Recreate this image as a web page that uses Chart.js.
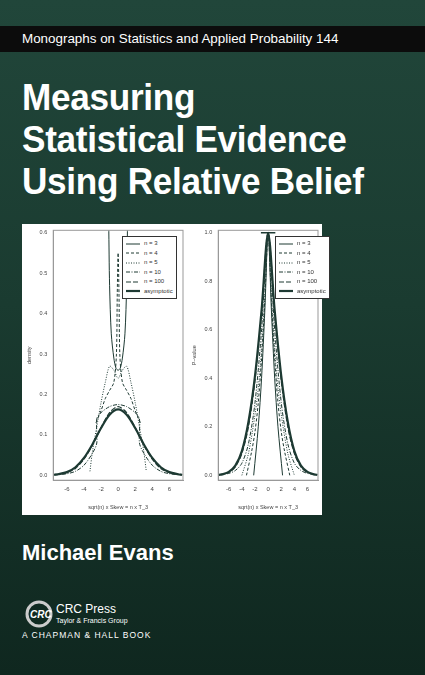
<!DOCTYPE html>
<html><head><meta charset="utf-8">
<script src="https://cdn.jsdelivr.net/npm/chart.js@4"></script>
<style>
body{margin:0;width:425px;height:675px;overflow:hidden;font-family:"Liberation Sans",Arial,sans-serif;
 background:linear-gradient(180deg,#21463a 0%,#1a3b30 45%,#0f271f 100%);position:relative}
.bar{position:absolute;left:0;top:26px;width:425px;height:26px;background:#0c0c0c;color:#fff;font-size:13.4px;line-height:26px;padding-left:22px;box-sizing:border-box}
h1{position:absolute;left:22px;top:77px;margin:0;color:#fff;font-size:37px;line-height:42px;font-weight:bold;letter-spacing:-0.3px;transform:scaleX(0.95);transform-origin:left}
.panel{position:absolute;left:22px;top:224px;width:300px;height:291px;background:#fff}
.c{position:absolute;top:0;height:291px}
.leg{position:absolute;border:1px solid #333;background:#fff;font-size:6px;color:#333;padding:2px 3px;line-height:9.5px}
.leg div{display:flex;align-items:center}
.leg svg{margin-right:4px}
.author{position:absolute;left:22px;top:540px;color:#fff;font-size:22px;font-weight:bold}
.logo{position:absolute;left:22px;top:600px;color:#fff}
</style></head><body>
<div class="bar">Monographs on Statistics and Applied Probability 144</div>
<h1>Measuring<br>Statistical Evidence<br>Using Relative Belief</h1>
<div class="panel">
 <div class="c" style="left:0;width:165px"><canvas id="g1"></canvas></div>
 <div class="c" style="left:165px;width:135px"><canvas id="g2"></canvas></div>
</div>
<div class="author">Michael Evans</div>
<div class="logo">
 <svg width="40" height="30" style="position:absolute;left:0;top:0"><circle cx="17" cy="14" r="12" fill="none" stroke="#ccc" stroke-width="3"/><text x="8" y="18" font-size="10" font-weight="bold" fill="#fff" font-style="italic">CRC</text></svg>
 <div style="position:absolute;left:34px;top:2px;font-size:12px;white-space:nowrap">CRC Press</div>
 <div style="position:absolute;left:34px;top:17px;font-size:7px;white-space:nowrap">Taylor &amp; Francis Group</div>
 <div style="position:absolute;left:0;top:30px;font-size:8.5px;letter-spacing:1px;white-space:nowrap">A CHAPMAN &amp; HALL BOOK</div>
</div>
<script>
const seriesNames = ['n = 3','n = 4','n = 5','n = 10','n = 100','asymptotic'];
const dashes = [[],[3,2],[1,1.5],[4,1.5,1,1.5],[5,2],[]];
const widths = [1,1,1,1,1.2,2.2];
const colour = '#1e3a33';

// density plot
const densX3 = [-1.1,-1,-0.8,-0.5,-0.25,0,0.25,0.5,0.8,1,1.1];
const densY3 = [0.62,0.47,0.35,0.29,0.265,0.26,0.265,0.29,0.35,0.47,0.62];
const densX4 = [-2.6,-2,-1.5,-1,-0.5,-0.2,-0.1,0,0.1,0.2,0.5,1,1.5,2,2.6];
const densY4 = [0.13,0.16,0.19,0.21,0.23,0.3,0.45,0.55,0.45,0.3,0.23,0.21,0.19,0.16,0.13];
const densX5 = [-3.3,-3,-2.5,-2,-1.5,-1,-0.5,0,0.5,1,1.5,2,2.5,3,3.3];
const densY5 = [0.01,0.06,0.12,0.18,0.23,0.27,0.26,0.24,0.26,0.27,0.23,0.18,0.12,0.06,0.01];
const densX10 = [-7.5,-6,-5,-4,-3,-2.5,-2.5,-2,-1,0,1,2,2.5,2.5,3,4,5,6,7.5];
const densY10 = [0.001,0.004,0.01,0.025,0.055,0.08,0.14,0.155,0.17,0.175,0.17,0.155,0.14,0.08,0.055,0.025,0.01,0.004,0.001];
const densX100 = [-7.5,-6,-5,-4,-3,-2,-1,0,1,2,3,4,5,6,7.5];
const densY100 = [0.002,0.007,0.017,0.04,0.075,0.118,0.155,0.17,0.155,0.118,0.075,0.04,0.017,0.007,0.002];
const densXA = [-7.5,-7,-6,-5,-4,-3,-2,-1,0,1,2,3,4,5,6,7,7.5];
const densYA = [0.0015,0.0028,0.008,0.02,0.043,0.077,0.117,0.15,0.163,0.15,0.117,0.077,0.043,0.02,0.008,0.0028,0.0015];

// p-value plot
const pX3 = [-2.2,-1.5,-1,-0.5,0,0.5,1,1.5,2.2];
const pY3 = [0,0.2,0.4,0.68,1,0.68,0.4,0.2,0];
const pX4 = [-3.3,-2.5,-2,-1.5,-1,-0.5,0,0.5,1,1.5,2,2.5,3.3];
const pY4 = [0,0.1,0.18,0.3,0.48,0.72,1,0.72,0.48,0.3,0.18,0.1,0];
const pX5 = [-4,-3,-2,-1.5,-1,-0.5,0,0.5,1,1.5,2,3,4];
const pY5 = [0,0.09,0.25,0.36,0.52,0.74,1,0.74,0.52,0.36,0.25,0.09,0];
const pX10 = [-7.5,-6,-5,-4,-3,-2,-1,0,1,2,3,4,5,6,7.5];
const pY10 = [0.002,0.008,0.02,0.05,0.13,0.3,0.6,1,0.6,0.3,0.13,0.05,0.02,0.008,0.002];
const pX100 = [-7.5,-6,-5,-4,-3,-2,-1,0,1,2,3,4,5,6,7.5];
const pY100 = [0.003,0.012,0.035,0.09,0.2,0.39,0.67,1,0.67,0.39,0.2,0.09,0.035,0.012,0.003];
const pXA = [-7.5,-7,-6,-5,-4,-3,-2,-1,0,1,2,3,4,5,6,7,7.5];
const pYA = [0.002,0.004,0.014,0.04,0.1,0.22,0.41,0.68,1,0.68,0.41,0.22,0.1,0.04,0.014,0.004,0.002];
const capX = [-1.1,1.1], capY = [1,1];

const xTicks = [-6,-4,-2,0,2,4,6];

function pts(xs, ys){ return xs.map((x,i)=>({x:x,y:ys[i]})); }

function makeChart(id, sets, ymax, ystep, ylabel){
  const datasets = sets.map((s,i)=>({
    label: s.name, data: pts(s.x, s.y), borderColor: colour, borderWidth: s.w,
    borderDash: s.dash, pointRadius: 0, fill: false, tension: 0.3
  }));
  new Chart(document.getElementById(id), {
    type: 'line',
    data: { datasets: datasets },
    options: {
      animation: false, responsive: true, maintainAspectRatio: false,
      layout: { padding: { top: 6, right: 4 } },
      plugins: { legend: { display: false }, tooltip: { enabled: false } },
      scales: {
        x: { type: 'linear', min: -7.6, max: 7.6,
             afterBuildTicks: a => { a.ticks = xTicks.map(v=>({value:v})); },
             ticks: { font: { size: 6 }, color: '#444' },
             grid: { display: false, drawTicks: true, tickLength: 3 },
             border: { color: '#999' },
             title: { display: true, text: 'sqrt(n) x Skew = n x T_3', font: { size: 5.5 }, color: '#444', padding: { top: 8 } } },
        y: { min: -0.02 * ymax, max: ymax * 1.01,
             afterBuildTicks: a => { a.ticks = []; for (let v=0; v<=ymax+1e-9; v+=ystep) a.ticks.push({value:+v.toFixed(2)}); },
             ticks: { font: { size: 5.5 }, color: '#444', callback: v => v.toFixed(1) },
             grid: { display: false, tickLength: 3 },
             border: { color: '#999' },
             title: { display: true, text: ylabel, font: { size: 5.5 }, color: '#444' } }
      }
    },
    plugins: [{ id: 'frame', afterDraw(c){ const a=c.chartArea, x=c.ctx; x.save(); x.strokeStyle='#999'; x.lineWidth=1; x.strokeRect(a.left,a.top,a.width,a.height); x.restore(); } }]
  });
}

const densSets = [[densX3,densY3],[densX4,densY4],[densX5,densY5],[densX10,densY10],[densX100,densY100],[densXA,densYA]]
  .map((d,i)=>({name:seriesNames[i], x:d[0], y:d[1], dash:dashes[i], w:widths[i]}));
const pSets = [[pX3,pY3],[pX4,pY4],[pX5,pY5],[pX10,pY10],[pX100,pY100],[pXA,pYA]]
  .map((d,i)=>({name:seriesNames[i], x:d[0], y:d[1], dash:dashes[i], w:widths[i]}));
pSets.push({name:'cap', x:capX, y:capY, dash:[], w:1.3});

makeChart('g1', densSets, 0.6, 0.1, 'density');
makeChart('g2', pSets, 1.0, 0.2, 'P\u2013value');

// legends
function legend(left, top){
  const d = document.createElement('div'); d.className='leg';
  d.style.left = left+'px'; d.style.top = top+'px';
  seriesNames.forEach((n,i)=>{
    const r = document.createElement('div');
    r.innerHTML = '<svg width="14" height="4"><line x1="0" y1="2" x2="14" y2="2" stroke="'+colour+'" stroke-width="'+widths[i]+'" stroke-dasharray="'+dashes[i].join(',')+'"/></svg>'+n;
    d.appendChild(r);
  });
  document.querySelector('.panel').appendChild(d);
}
legend(100, 12);
legend(253, 12);
</script>
</body></html>
